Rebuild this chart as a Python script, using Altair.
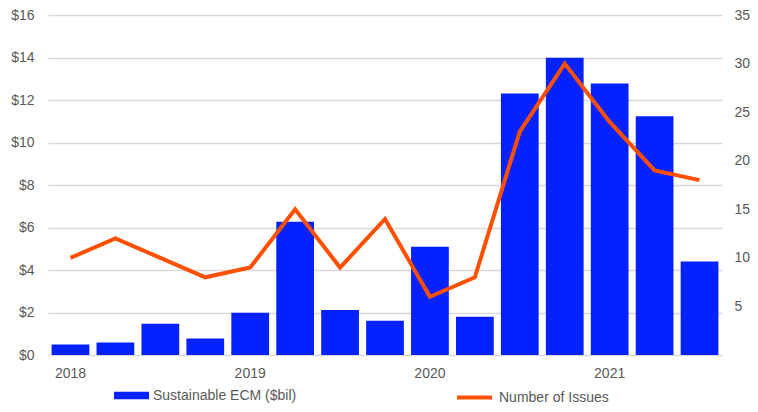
import altair as alt
import pandas as pd

quarters = ["2018 Q1", "2018 Q2", "2018 Q3", "2018 Q4",
            "2019 Q1", "2019 Q2", "2019 Q3", "2019 Q4",
            "2020 Q1", "2020 Q2", "2020 Q3", "2020 Q4",
            "2021 Q1", "2021 Q2", "2021 Q3"]
ecm_values = [0.50, 0.59, 1.47, 0.78, 1.99, 6.27, 2.12, 1.61, 5.10, 1.80,
              12.31, 13.99, 12.78, 11.24, 4.40]
issue_counts = [10, 12, 10, 8, 9, 15, 9, 14, 6, 8, 23, 30, 24, 19, 18]

BAR_NAME = "Sustainable ECM ($bil)"
LINE_NAME = "Number of Issues"
BLUE = "#0521FF"
ORANGE = "#FF5000"
FONT = "Liberation Sans"
GREY = "#595959"

df = pd.DataFrame({
    "quarter": quarters,
    "ecm": ecm_values,
    "issues": issue_counts,
    "s_bar": [BAR_NAME] * len(quarters),
    "s_line": [LINE_NAME] * len(quarters),
})

x_enc = alt.X(
    "quarter:N", sort=quarters, title=None,
    scale=alt.Scale(paddingInner=0.16, paddingOuter=0.08),
    axis=alt.Axis(labelAngle=0, ticks=False, domain=False, labelPadding=11,
                  labelExpr="slice(datum.label, 5) == 'Q1' ? slice(datum.label, 0, 4) : ''"),
)

bars = alt.Chart(df).mark_bar(color=BLUE).encode(
    x=x_enc,
    y=alt.Y("ecm:Q", title=None,
            scale=alt.Scale(domain=[0, 16], nice=False),
            axis=alt.Axis(orient="left", values=[0, 2, 4, 6, 8, 10, 12, 14, 16],
                          labelExpr="'$' + datum.value", grid=True, ticks=False,
                          domain=False, labelPadding=14, gridColor="#D9D9D9",
                          gridWidth=1.3)),
    color=alt.Color("s_bar:N", title=None,
                    scale=alt.Scale(domain=[BAR_NAME], range=[BLUE]),
                    legend=alt.Legend(orient="none", legendX=66, legendY=363,
                                      symbolType="M-1,-0.22L1,-0.22L1,0.22L-1,0.22Z",
                                      symbolSize=1225, symbolStrokeWidth=0,
                                      labelOffset=4, padding=0)),
)

line = alt.Chart(df).mark_line(strokeWidth=4, color=ORANGE).encode(
    x=x_enc,
    y=alt.Y("issues:Q", title=None,
            scale=alt.Scale(domain=[0, 35], nice=False),
            axis=alt.Axis(orient="right", values=[0, 5, 10, 15, 20, 25, 30, 35],
                          labelExpr="datum.value == 0 ? '' : datum.label",
                          grid=False, ticks=False, domain=False, labelPadding=12)),
    stroke=alt.Stroke("s_line:N", title=None,
                      scale=alt.Scale(domain=[LINE_NAME], range=[ORANGE]),
                      legend=alt.Legend(orient="none", legendX=407, legendY=363,
                                        symbolType="M-1,0L1,0", symbolSize=1225,
                                        symbolStrokeWidth=4, labelOffset=5, padding=0)),
)

chart = alt.layer(bars, line).resolve_scale(y="independent").properties(
    width=674,
    height=340,
    autosize=alt.AutoSizeParams(type="none"),
    padding={"left": 40, "top": 7, "right": 28, "bottom": 49},
).configure_view(stroke=None).configure_axis(
    labelFont=FONT, labelFontSize=14, labelColor=GREY,
).configure_legend(
    labelFont=FONT, labelFontSize=14, labelColor=GREY,
)

chart.save("out.html", embed_options={"renderer": "svg", "actions": False})
